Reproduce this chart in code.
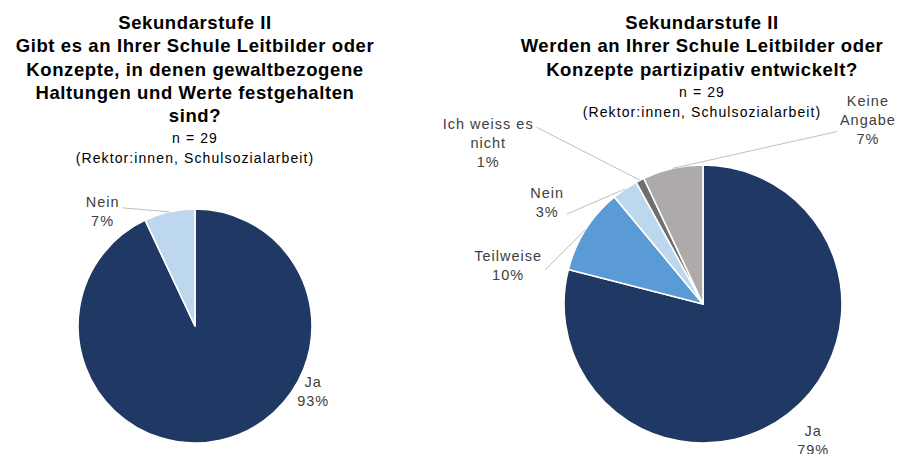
<!DOCTYPE html>
<html>
<head>
<meta charset="utf-8">
<script src="https://cdn.jsdelivr.net/npm/d3@7"></script>
<style>
  body { margin: 0; background: #fff; }
  svg { display: block; }
  text { font-family: 'Liberation Sans', Arial, sans-serif; }
</style>
</head>
<body>
<div id="chart"></div>
<script>
// Data
var leftTitle = ['Sekundarstufe II', 'Gibt es an Ihrer Schule Leitbilder oder', 'Konzepte, in denen gewaltbezogene', 'Haltungen und Werte festgehalten', 'sind?']
var leftCategories = ['Ja', 'Nein']
var leftValues = [93, 7]

var rightTitle = ['Sekundarstufe II', 'Werden an Ihrer Schule Leitbilder oder', 'Konzepte partizipativ entwickelt?']
var rightCategories = ['Ja', 'Teilweise', 'Nein', 'Ich weiss es|nicht', 'Keine|Angabe']
var rightValues = [79, 10, 3, 1, 7]

var subtitle = ['n = 29', '(Rektor:innen, Schulsozialarbeit)']

// Colours per category
var colorScale = d3
  .scaleOrdinal()
  .domain(['Ja', 'Teilweise', 'Nein', 'Ich weiss es|nicht', 'Keine|Angabe'])
  .range(['#203864', '#5B9BD5', '#BDD7EE', '#6F6F6F', '#AEAAAA'])

var width = 898
var height = 454

var svg = d3
  .select('#chart')
  .append('svg')
  .attr('width', width)
  .attr('height', height)

// label placement: angle (deg clockwise from top), distance as share of radius, leader line
var leftLabelPos = [
  { angle: 119, dist: 1.155, leader: false },
  { angle: 321, dist: 1.255, leader: true, ly: -4 }
]
var rightLabelPos = [
  { angle: 141, dist: 1.26, leader: false },
  { angle: 281.3, dist: 1.43, leader: true, ly: 5 },
  { angle: 303.2, dist: 1.34, leader: true, ly: 12 },
  { angle: 306.8, dist: 1.93, leader: true, ly: -16 },
  { angle: 41.8, dist: 1.78, leader: true, ly: 12 }
]

function drawPie(opts) {
  var g = svg.append('g')

  // Title
  var title = g
    .append('text')
    .attr('text-anchor', 'middle')
    .attr('font-weight', 'bold')
    .attr('font-size', 18.5)
    .attr('letter-spacing', 0.6)
    .attr('fill', '#000')
  title
    .selectAll('tspan')
    .data(opts.title)
    .enter()
    .append('tspan')
    .attr('x', opts.titleX)
    .attr('y', (d, i) => opts.titleY + i * 23.3)
    .text(d => d)

  var sub = g
    .append('text')
    .attr('text-anchor', 'middle')
    .attr('font-size', 14)
    .attr('letter-spacing', 1.1)
    .attr('fill', '#000')
  sub
    .selectAll('tspan')
    .data(subtitle)
    .enter()
    .append('tspan')
    .attr('x', opts.titleX)
    .attr('y', (d, i) => opts.subY + i * 20)
    .text(d => d)

  var data = opts.categories.map((c, i) => ({ key: c, value: opts.values[i] }))

  var pie = d3
    .pie()
    .sort(null)
    .value(d => d.value)

  var arc = d3
    .arc()
    .innerRadius(0)
    .outerRadius(opts.r)

  var arcs = pie(data)

  var pieG = g.append('g').attr('transform', 'translate(' + opts.cx + ',' + opts.cy + ')')

  pieG
    .selectAll('.slice')
    .data(arcs)
    .enter()
    .append('path')
    .attr('class', 'slice')
    .attr('d', arc)
    .attr('fill', d => colorScale(d.data.key))
    .attr('stroke', '#fff')
    .attr('stroke-width', 1.6)
    .attr('stroke-linejoin', 'round')

  // Labels
  arcs.forEach(function(d, i) {
    var pos = opts.labelPos[i]
    var a = (pos.angle * Math.PI) / 180
    var lx = Math.sin(a) * opts.r * pos.dist
    var ly = -Math.cos(a) * opts.r * pos.dist
    var lines = d.data.key.split('|').concat([Math.round(d.data.value) + '%'])
    var lh = 19
    var top = ly - ((lines.length - 1) * lh) / 2

    var t = pieG
      .append('text')
      .attr('text-anchor', 'middle')
      .attr('font-size', 14.5)
      .attr('letter-spacing', 1)
      .attr('fill', '#404040')
    t.selectAll('tspan')
      .data(lines)
      .enter()
      .append('tspan')
      .attr('x', lx)
      .attr('y', (s, j) => top + j * lh)
      .attr('dy', '0.35em')
      .text(s => s)

    if (pos.leader) {
      var box = t.node().getBBox()
      var mid = (d.startAngle + d.endAngle) / 2
      var ex = Math.sin(mid) * opts.r
      var ey = -Math.cos(mid) * opts.r
      var sx = ex < lx ? box.x - 3 : box.x + box.width + 3
      var sy = ly + (pos.ly || 0)
      pieG
        .append('path')
        .attr('d', 'M' + sx + ',' + sy + 'L' + ex + ',' + ey)
        .attr('fill', 'none')
        .attr('stroke', '#BFBFBF')
        .attr('stroke-width', 1)
    }
  })
}

drawPie({
  title: leftTitle,
  titleX: 195,
  titleY: 29,
  subY: 143,
  categories: leftCategories,
  values: leftValues,
  labelPos: leftLabelPos,
  cx: 195,
  cy: 326,
  r: 117
})

drawPie({
  title: rightTitle,
  titleX: 702,
  titleY: 29,
  subY: 97,
  categories: rightCategories,
  values: rightValues,
  labelPos: rightLabelPos,
  cx: 703,
  cy: 304,
  r: 139
})
</script>
</body>
</html>
